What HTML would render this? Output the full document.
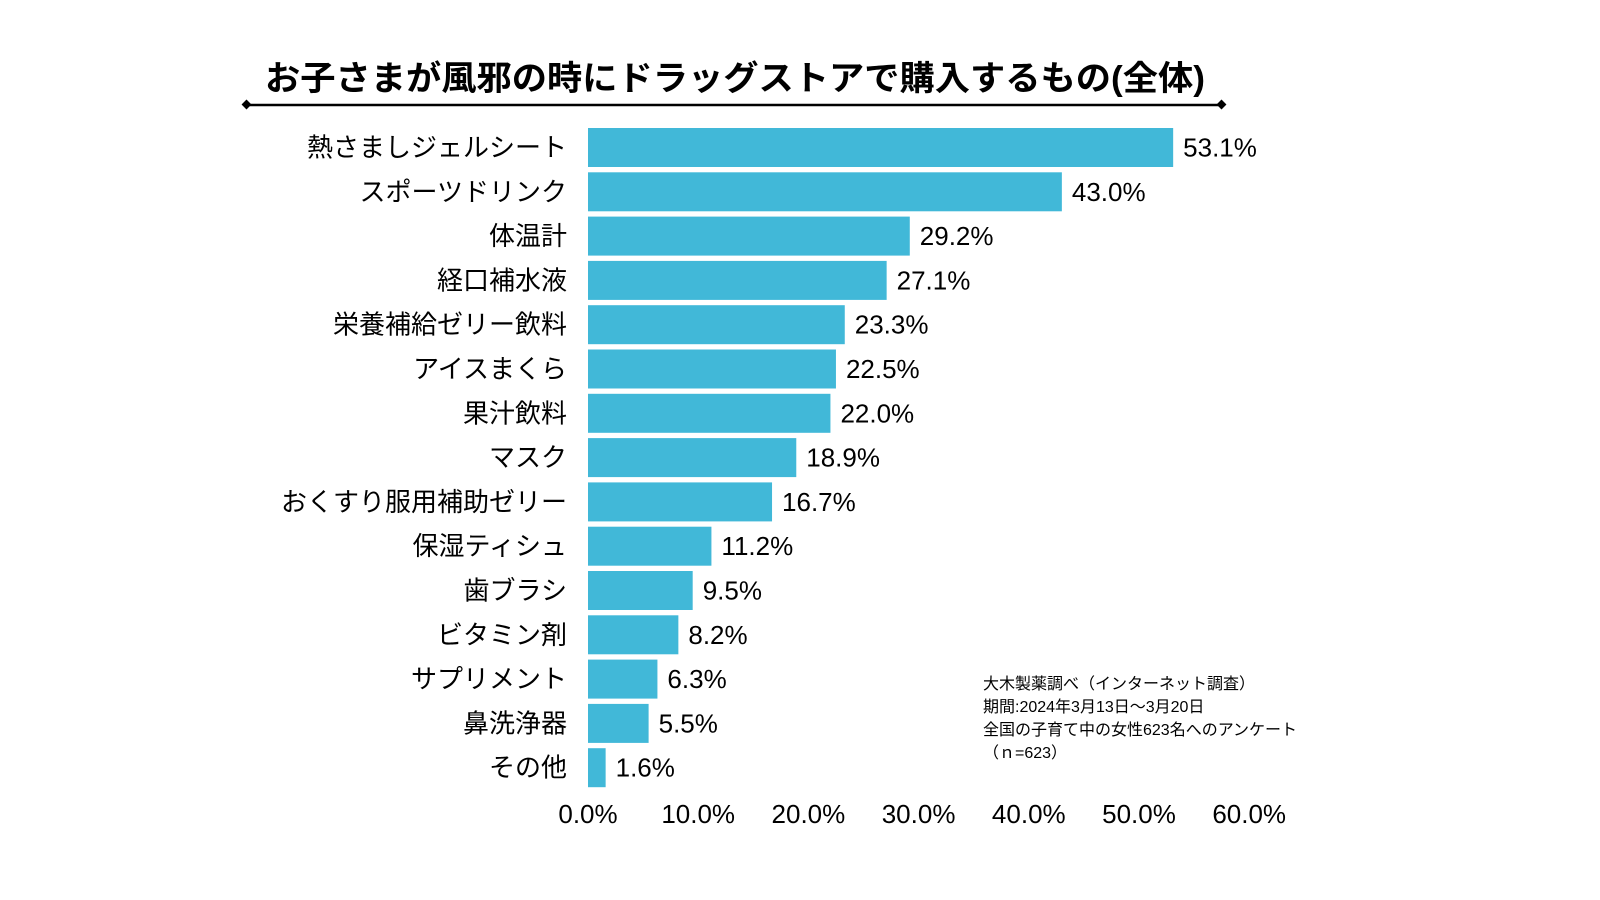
<!DOCTYPE html>
<html><head><meta charset="utf-8"><style>
html,body{margin:0;padding:0;background:#fff;}
svg{display:block;font-family:"Liberation Sans","Noto Sans CJK JP",sans-serif;}
</style></head><body>
<svg id="chart" width="1600" height="900" viewBox="0 0 1600 900">
<text x="735" y="90" text-anchor="middle" font-size="34" font-weight="bold" textLength="940" lengthAdjust="spacingAndGlyphs" fill="#000">お子さまが風邪の時にドラッグストアで購入するもの(全体)</text>
<g>
<line x1="247" y1="105" x2="1221" y2="105" stroke="#000" stroke-width="2.5"/>
<rect x="243" y="101" width="7" height="7" transform="rotate(45 246.5 104.5)" fill="#000"/>
<rect x="1218" y="101" width="7" height="7" transform="rotate(45 1221.5 104.5)" fill="#000"/>
</g>
<g id="bars"></g>
<g id="xaxis"></g>
<g font-size="16" fill="#000">
<text x="983" y="689">大木製薬調べ（インターネット調査）</text>
<text x="983" y="712">期間:2024年3月13日～3月20日</text>
<text x="983" y="735">全国の子育て中の女性623名へのアンケート</text>
<text x="983" y="758">（ｎ=623）</text>
</g>
</svg>
<script>
const categories=["熱さましジェルシート","スポーツドリンク","体温計","経口補水液","栄養補給ゼリー飲料","アイスまくら","果汁飲料","マスク","おくすり服用補助ゼリー","保湿ティシュ","歯ブラシ","ビタミン剤","サプリメント","鼻洗浄器","その他"];
const values=[53.1,43.0,29.2,27.1,23.3,22.5,22.0,18.9,16.7,11.2,9.5,8.2,6.3,5.5,1.6];
const ticks=[0,10,20,30,40,50,60];
const NS="http://www.w3.org/2000/svg";
const x0=588,pxPer=11.02,barTop=128,pitch=44.3,bh=39;
const xs=v=>x0+v*pxPer;
const ys=i=>barTop+i*pitch;
const bars=document.getElementById('bars');
categories.forEach((c,i)=>{
 const r=document.createElementNS(NS,'rect');
 r.setAttribute('x',x0);r.setAttribute('y',ys(i));
 r.setAttribute('width',xs(values[i])-x0);r.setAttribute('height',bh);
 r.setAttribute('fill','#41b8d8');
 
 
 bars.appendChild(r);
 const l=document.createElementNS(NS,'text');
 l.setAttribute('x',567);l.setAttribute('y',ys(i)+bh/2+9);
 l.setAttribute('text-anchor','end');l.setAttribute('font-size','26');
 l.textContent=c;
 
 
 bars.appendChild(l);
 const v=document.createElementNS(NS,'text');
 v.setAttribute('x',xs(values[i])+10);v.setAttribute('y',ys(i)+bh/2+9);
 v.setAttribute('font-size','26');
 v.textContent=values[i].toFixed(1)+'%';
 
 
 bars.appendChild(v);
});
const ax=document.getElementById('xaxis');
ticks.forEach(t=>{
 const tx=document.createElementNS(NS,'text');
 tx.setAttribute('x',xs(t));tx.setAttribute('y',823);
 tx.setAttribute('text-anchor','middle');tx.setAttribute('font-size','26');
 tx.textContent=t.toFixed(1)+'%';
 
 
 ax.appendChild(tx);
});
</script>
</body></html>
